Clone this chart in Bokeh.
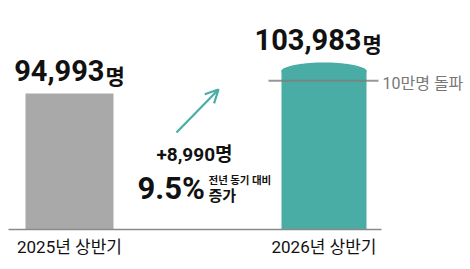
import numpy as np
from bokeh.plotting import figure
from bokeh.models import Range1d, Arrow, OpenHead, ColumnDataSource
from bokeh.core.properties import value
from bokeh.embed import file_html
from bokeh.resources import INLINE

# ---- data ----
categories = ["2025년 상반기", "2026년 상반기"]
visitors = [94993, 103983]
milestone = 100000
milestone_label = "10만명 돌파"
unit = "명"
compare_label = "전년 동기 대비"
increase_label = "증가"

# ---- layout / style ----
W, H = 470, 269
base_px = 229            # pixel row (from top) of the baseline
axis_start = 42000       # value at the baseline
px_per_unit = 136 / (visitors[0] - axis_start)
upp = 1 / px_per_unit    # units per pixel
y_lo = axis_start - (H - base_px) * upp
y_hi = axis_start + base_px * upp

def py(px_from_top):
    return y_hi - px_from_top * upp

CORR = 0.38  # baseline correction (em)
def pyb(px_from_top, fs):
    return py(px_from_top - CORR * fs)

centers = [69, 323.5]
widths = [88, 85]
colors = ["#a9a9a9", "#49ada6"]
dome_px = [0, 8]
KR = value("Noto Sans CJK KR")
NUM = value("Roboto, Noto Sans CJK KR")

p = figure(width=W, height=H, output_backend="svg", toolbar_location=None,
           x_range=Range1d(0, W), y_range=Range1d(y_lo, y_hi),
           min_border=0, outline_line_color=None, background_fill_color="white",
           border_fill_color="white")
p.xaxis.visible = False
p.yaxis.visible = False
p.xgrid.visible = False
p.ygrid.visible = False

# bars
src = ColumnDataSource(dict(x=centers, top=visitors, w=widths, c=colors))
p.vbar(x="x", top="top", bottom=axis_start, width="w", fill_color="c",
       line_color=None, source=src)

# dome on the 2026 bar
i = 1
xs = np.linspace(centers[i] - widths[i] / 2, centers[i] + widths[i] / 2, 60)
t = (xs - centers[i]) / (widths[i] / 2)
dome_y = visitors[i] + dome_px[i] * upp * np.clip(1 - t ** 2, 0, 1) ** 0.6
p.patch(np.concatenate([xs, xs[::-1]]),
        np.concatenate([dome_y, np.full_like(xs, visitors[i] - 2 * upp)]),
        fill_color=colors[i], line_color=None)

# baseline
p.segment(x0=[8], y0=[axis_start], x1=[381], y1=[axis_start],
          line_color="#8a8a8a", line_width=1.5)

# milestone line
p.segment(x0=[268], y0=[milestone], x1=[378], y1=[milestone],
          line_color="#7d7d7d", line_width=2, line_alpha=0.8)
p.text(x=[382], y=[pyb(89, 16)], text=[milestone_label], text_font=NUM,
       text_font_size="16px", text_color="#777777", text_baseline="alphabetic",
       text_align="left")

# value labels
split_x = [104, 361]
for k in range(2):
    top_val = visitors[k] + dome_px[k] * upp
    lpx = (y_hi - top_val) / upp - 12
    p.text(x=[split_x[k]], y=[pyb(lpx, 29)], text=[f"{visitors[k]:,}"], text_font=NUM,
           text_font_size="29px", text_font_style="bold", text_color="#111111",
           text_align="right", text_baseline="alphabetic")
    p.text(x=[split_x[k] + 1], y=[pyb(lpx + 1, 21)], text=[unit], text_font=KR,
           text_font_size="21px", text_font_style="bold", text_color="#111111",
           text_align="left", text_baseline="alphabetic")

# category labels
p.text(x=centers, y=[pyb(253, 17)] * 2, text=categories, text_font=NUM,
       text_font_size="17px", text_color="#111111", text_align="center",
       text_baseline="alphabetic")

# growth annotation
diff = visitors[1] - visitors[0]
pct = diff / visitors[0] * 100
p.add_layout(Arrow(end=OpenHead(size=13, line_color=colors[1], line_width=2.2),
                   x_start=176, y_start=py(132), x_end=218, y_end=py(89),
                   line_color=colors[1], line_width=2.2))
p.text(x=[194], y=[pyb(161, 19)], text=[f"+{diff:,}{unit}"], text_font=NUM,
       text_font_size="19px", text_font_style="bold", text_color="#111111",
       text_align="center", text_baseline="alphabetic")
p.text(x=[137], y=[pyb(200, 31)], text=[f"{pct:.1f}%"], text_font=NUM,
       text_font_size="31px", text_font_style="bold", text_color="#111111",
       text_align="left", text_baseline="alphabetic")
p.text(x=[208], y=[pyb(183, 10.5)], text=[compare_label], text_font=KR,
       text_font_size="10.5px", text_font_style="bold", text_color="#111111",
       text_align="left", text_baseline="alphabetic")
p.text(x=[208], y=[pyb(200, 15)], text=[increase_label], text_font=KR,
       text_font_size="15px", text_font_style="bold", text_color="#111111",
       text_align="left", text_baseline="alphabetic")

open("out.html", "w").write(file_html(p, INLINE))
